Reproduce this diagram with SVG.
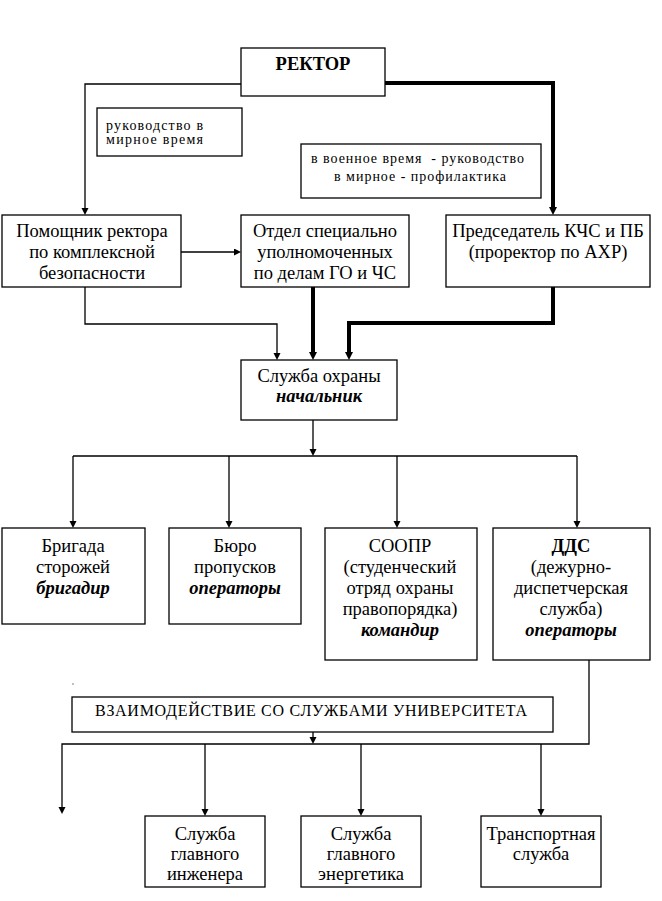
<svg xmlns="http://www.w3.org/2000/svg" width="662" height="901" viewBox="0 0 662 901">
<style>
.box{fill:#fff;stroke:#000;stroke-width:1.3}
.t{font-family:"Liberation Serif","Times New Roman",serif;font-size:18.5px;fill:#000;text-anchor:middle}
.s{font-family:"Liberation Serif","Times New Roman",serif;font-size:14px;fill:#000;white-space:pre}
.cap{font-family:"Liberation Serif","Times New Roman",serif;font-size:16px;fill:#000}
.b{font-weight:bold}
.bi{font-weight:bold;font-style:italic}
.thin{fill:none;stroke:#000;stroke-width:1.3}
.thick{fill:none;stroke:#000;stroke-width:4}
</style>
<defs>
<marker id="a" markerUnits="userSpaceOnUse" markerWidth="8" markerHeight="8" refX="0" refY="3.5" orient="auto">
<path d="M0,0 L7,3.5 L0,7 z" fill="#000"/>
</marker>
<marker id="ak" markerUnits="userSpaceOnUse" markerWidth="9" markerHeight="9" refX="0" refY="4" orient="auto">
<path d="M0,0 L8,4 L0,8 z" fill="#000"/>
</marker>
</defs>
<rect width="662" height="901" fill="#fff"/>

<g id="connectors">
<polyline class="thin" points="241,84 85,84 85,208" marker-end="url(#a)"/>
<polyline class="thick" points="385,83 553,83 553,207" marker-end="url(#ak)"/>
<polyline class="thin" points="181,252 234,252" marker-end="url(#a)"/>
<polyline class="thin" points="85,287 85,324 277,324 277,353" marker-end="url(#a)"/>
<polyline class="thick" points="313,287 313,352" marker-end="url(#ak)"/>
<polyline class="thick" points="553,287 553,323 349,323 349,352" marker-end="url(#ak)"/>
<polyline class="thin" points="313,420 313,449" marker-end="url(#a)"/>
<polyline class="thin" points="73,456 577,456"/>
<polyline class="thin" points="73,456 73,521" marker-end="url(#a)"/>
<polyline class="thin" points="229,456 229,521" marker-end="url(#a)"/>
<polyline class="thin" points="397,456 397,521" marker-end="url(#a)"/>
<polyline class="thin" points="577,456 577,521" marker-end="url(#a)"/>
<polyline class="thin" points="589,660 589,744 62,744 62,807" marker-end="url(#a)"/>
<polyline class="thin" points="313,732 313,737" marker-end="url(#a)"/>
<polyline class="thin" points="205,744 205,809" marker-end="url(#a)"/>
<polyline class="thin" points="361,744 361,809" marker-end="url(#a)"/>
<polyline class="thin" points="541,744 541,809" marker-end="url(#a)"/>
<rect x="72.5" y="683.5" width="1" height="1" fill="#000"/>
</g>

<g id="rector">
<rect class="box" x="241" y="48" width="144" height="48"/>
<text class="t b" x="313" y="70">РЕКТОР</text>
</g>

<g id="note-peace">
<rect class="box" x="97" y="108" width="145" height="48"/>
<text class="s" x="106" y="130" textLength="97" lengthAdjust="spacing">руководство в</text>
<text class="s" x="106" y="144" textLength="97" lengthAdjust="spacing">мирное время</text>
</g>

<g id="note-war">
<rect class="box" x="301" y="144" width="240" height="54"/>
<text class="s" x="311" y="163" textLength="213" lengthAdjust="spacing">в военное время  - руководство</text>
<text class="s" x="334" y="181" textLength="172" lengthAdjust="spacing">в мирное - профилактика</text>
</g>

<g id="assistant">
<rect class="box" x="2" y="215" width="179" height="72"/>
<text class="t" x="92" y="237">Помощник ректора</text>
<text class="t" x="92" y="258">по комплексной</text>
<text class="t" x="92" y="279">безопасности</text>
</g>

<g id="dept">
<rect class="box" x="241" y="215" width="168" height="72"/>
<text class="t" x="325" y="237">Отдел специально</text>
<text class="t" x="325" y="258">уполномоченных</text>
<text class="t" x="325" y="279">по делам ГО и ЧС</text>
</g>

<g id="chairman">
<rect class="box" x="446" y="215" width="204" height="72"/>
<text class="t" x="548" y="237">Председатель КЧС и ПБ</text>
<text class="t" x="548" y="258">(проректор по АХР)</text>
</g>

<g id="security">
<rect class="box" x="241" y="360" width="156" height="60"/>
<text class="t" x="319" y="382">Служба охраны</text>
<text class="t bi" x="319" y="402">начальник</text>
</g>

<g id="guards">
<rect class="box" x="2" y="528" width="143" height="96"/>
<text class="t" x="73" y="552">Бригада</text>
<text class="t" x="73" y="573">сторожей</text>
<text class="t bi" x="73" y="594">бригадир</text>
</g>

<g id="passes">
<rect class="box" x="169" y="528" width="132" height="96"/>
<text class="t" x="235" y="552">Бюро</text>
<text class="t" x="235" y="573">пропусков</text>
<text class="t bi" x="235" y="594">операторы</text>
</g>

<g id="soopr">
<rect class="box" x="325" y="528" width="152" height="132"/>
<text class="t" x="400" y="552">СООПР</text>
<text class="t" x="400" y="573">(студенческий</text>
<text class="t" x="400" y="594">отряд охраны</text>
<text class="t" x="400" y="615">правопорядка)</text>
<text class="t bi" x="400" y="636">командир</text>
</g>

<g id="dds">
<rect class="box" x="493" y="528" width="157" height="132"/>
<text class="t b" x="571" y="552">ДДС</text>
<text class="t" x="571" y="573">(дежурно-</text>
<text class="t" x="571" y="594">диспетчерская</text>
<text class="t" x="571" y="615">служба)</text>
<text class="t bi" x="571" y="636">операторы</text>
</g>

<g id="interaction">
<rect class="box" x="72" y="697" width="481" height="35"/>
<text class="cap" x="95" y="716" textLength="432" lengthAdjust="spacing">ВЗАИМОДЕЙСТВИЕ СО СЛУЖБАМИ УНИВЕРСИТЕТА</text>
</g>

<g id="engineer">
<rect class="box" x="145" y="816" width="120" height="71"/>
<text class="t" x="205" y="840">Служба</text>
<text class="t" x="205" y="860">главного</text>
<text class="t" x="205" y="880">инженера</text>
</g>

<g id="energy">
<rect class="box" x="301" y="816" width="120" height="71"/>
<text class="t" x="361" y="840">Служба</text>
<text class="t" x="361" y="860">главного</text>
<text class="t" x="361" y="880">энергетика</text>
</g>

<g id="transport">
<rect class="box" x="481" y="816" width="120" height="71"/>
<text class="t" x="541" y="840">Транспортная</text>
<text class="t" x="541" y="860">служба</text>
</g>
</svg>
